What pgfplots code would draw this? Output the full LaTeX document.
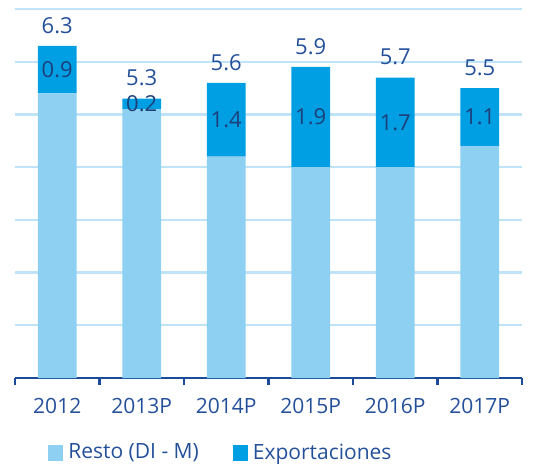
\documentclass[border=0pt]{standalone}
\usepackage{pgfplots}
\pgfplotsset{compat=1.18}
\usepackage{fontspec}
\setmainfont{Open Sans}

\definecolor{resto}{HTML}{8DD0F1}
\definecolor{expo}{HTML}{009EE2}
\definecolor{gridblue}{HTML}{BFE4F7}
\definecolor{axisblue}{HTML}{1A4C99}
\definecolor{textblue}{HTML}{24509A}

\pgfplotsset{
  frame/.style={scale only axis, width=253.5pt, height=184.5pt,
    xmin=-0.5, xmax=5.5, ymin=0, ymax=7},
}

\begin{document}
\begin{tikzpicture}
\begin{axis}[
  frame,
  ybar stacked,
  bar width=0.46,
  axis x line*=bottom,
  axis y line*=left,
  y axis line style={draw=none},
  x axis line style={draw=axisblue, line width=1.3pt},
  xtick={-0.5,0.5,...,5.5},
  x tick label as interval,
  xticklabels={2012,2013P,2014P,2015P,2016P,2017P},
  x tick style={draw=axisblue, line width=1.3pt},
  tick align=outside,
  major tick length=3.5pt,
  ytick={1,2,...,7},
  yticklabels={},
  y tick style={draw=none},
  ymajorgrids,
  grid style={gridblue, line width=1.2pt},
  tick label style={font=\fontsize{10.5}{12}\selectfont, text=textblue},
  xticklabel style={yshift=-3pt},
  legend style={at={(0.065,-0.203)}, anchor=west, draw=none, fill=none,
    legend columns=2, font=\fontsize{10.5}{12}\selectfont, text=textblue,
    inner sep=0pt,
    /tikz/every odd column/.append style={column sep=0.5pt},
    /tikz/every even column/.append style={column sep=15pt}},
  legend image code/.code={\fill[#1] (0pt,-3.8pt) rectangle (7.5pt,3.8pt);},
]
% Resto (DI - M)
\addplot[fill=resto, draw=none] coordinates {
  (0,5.4) (1,5.1) (2,4.2) (3,4.0) (4,4.0) (5,4.4)
};
\addlegendentry{Resto (DI - M)}
% Exportaciones
\addplot[fill=expo, draw=none] coordinates {
  (0,0.9) (1,0.2) (2,1.4) (3,1.9) (4,1.7) (5,1.1)
};
\addlegendentry{Exportaciones}
\end{axis}

% Etiquetas: totales y valores de exportaciones
\begin{axis}[frame, hide axis]
\addplot[only marks, mark=none, nodes near coords, point meta=explicit symbolic,
  every node near coord/.append style={anchor=south, inner sep=2pt, yshift=4pt,
    font=\fontsize{11}{12}\selectfont, text=textblue}]
  coordinates {
  (0,6.3) [6.3] (1,5.3) [5.3] (2,5.6) [5.6] (3,5.9) [5.9] (4,5.7) [5.7] (5,5.5) [5.5]
};
\addplot[only marks, mark=none, nodes near coords, point meta=explicit symbolic,
  every node near coord/.append style={anchor=center, inner sep=0pt,
    font=\fontsize{11}{12}\selectfont, text=textblue!80!black}]
  coordinates {
  (0,5.85) [0.9] (1,5.2) [0.2] (2,4.9) [1.4] (3,4.95) [1.9] (4,4.85) [1.7] (5,4.95) [1.1]
};
\end{axis}
\pgfresetboundingbox
\path[use as bounding box] ([xshift=-7.5pt,yshift=-42.5pt]current axis.south west)
  rectangle ([xshift=9pt,yshift=4.5pt]current axis.north east);
\end{tikzpicture}
\end{document}
